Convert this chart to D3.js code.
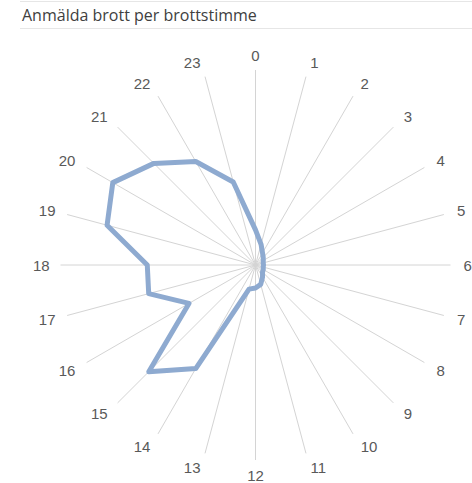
<!DOCTYPE html>
<html>
<head>
<meta charset="utf-8">
<script src="https://cdn.jsdelivr.net/npm/d3@7"></script>
<style>
  body { margin: 0; background: #fff; }
  svg { display: block; }
</style>
</head>
<body>
<div id="chart"></div>
<script>
// Anmälda brott per brottstimme - radar chart

const hours = ["0", "1", "2", "3", "4", "5", "6", "7", "8", "9", "10", "11",
               "12", "13", "14", "15", "16", "17", "18", "19", "20", "21", "22", "23"];
const reported = [18, 11, 7.2, 5.6, 4.6, 4.1, 4.1, 4.1, 4.6, 5.1, 7.2, 10.3,
                  11.8, 12.8, 61.3, 77.4, 39.4, 56.7, 55.5, 78.8, 84.5, 73.7, 61.3, 44.1];
const valueMax = 100;
const chartTitle = "Anmälda brott per brottstimme";

(function () {
  const W = 472, H = 483;
  const cx = 255.5, cy = 265, R = 195, labelR = 210;

  const svg = d3.select("#chart").append("svg")
    .attr("width", W)
    .attr("height", H);

  // title with the thin rules above and below
  svg.append("line")
    .attr("x1", 20).attr("x2", W).attr("y1", 1.5).attr("y2", 1.5)
    .attr("stroke", "#e6e6e6");
  svg.append("line")
    .attr("x1", 20).attr("x2", W).attr("y1", 28.5).attr("y2", 28.5)
    .attr("stroke", "#e6e6e6");
  svg.append("text")
    .attr("x", 22)
    .attr("y", 21)
    .attr("font-family", "'Open Sans', sans-serif")
    .attr("font-size", "16px")
    .attr("fill", "#404040")
    .text(chartTitle);

  const angle = d3.scalePoint()
    .domain(hours)
    .range([0, 2 * Math.PI * (hours.length - 1) / hours.length]);

  const r = d3.scaleLinear()
    .domain([0, valueMax])
    .range([0, R]);

  const g = svg.append("g")
    .attr("transform", `translate(${cx},${cy})`);

  // spokes
  g.selectAll(".spoke")
    .data(hours)
    .enter()
    .append("line")
    .attr("class", "spoke")
    .attr("x1", 0).attr("y1", 0)
    .attr("x2", d => R * Math.sin(angle(d)))
    .attr("y2", d => -R * Math.cos(angle(d)))
    .attr("stroke", "#d4d4d4")
    .attr("stroke-width", 1);

  // hour labels
  g.selectAll(".hour")
    .data(hours)
    .enter()
    .append("text")
    .attr("class", "hour")
    .attr("font-family", "'Liberation Sans', Arial, sans-serif")
    .attr("font-size", "15px")
    .attr("fill", "#595959")
    .attr("text-anchor", "middle")
    .attr("dominant-baseline", "central")
    .text(d => d)
    .each(function (d) {
      const a = angle(d);
      const dx = Math.sin(a), dy = -Math.cos(a);
      const w = this.getComputedTextLength();
      let shift = 0;
      if (Math.abs(dx) > 0.01) shift = Math.sign(dx) * (w / 2) * (0.5 + 0.6 * Math.abs(dy));
      d3.select(this)
        .attr("x", labelR * dx + shift)
        .attr("y", labelR * dy);
    });

  // data line
  const line = d3.lineRadial()
    .angle((d, i) => angle(hours[i]))
    .radius(d => r(d))
    .curve(d3.curveLinearClosed);

  g.append("path")
    .datum(reported)
    .attr("d", line)
    .attr("fill", "none")
    .attr("stroke", "#8eaad0")
    .attr("stroke-width", 5)
    .attr("stroke-linejoin", "round");
})();
</script>
</body>
</html>
